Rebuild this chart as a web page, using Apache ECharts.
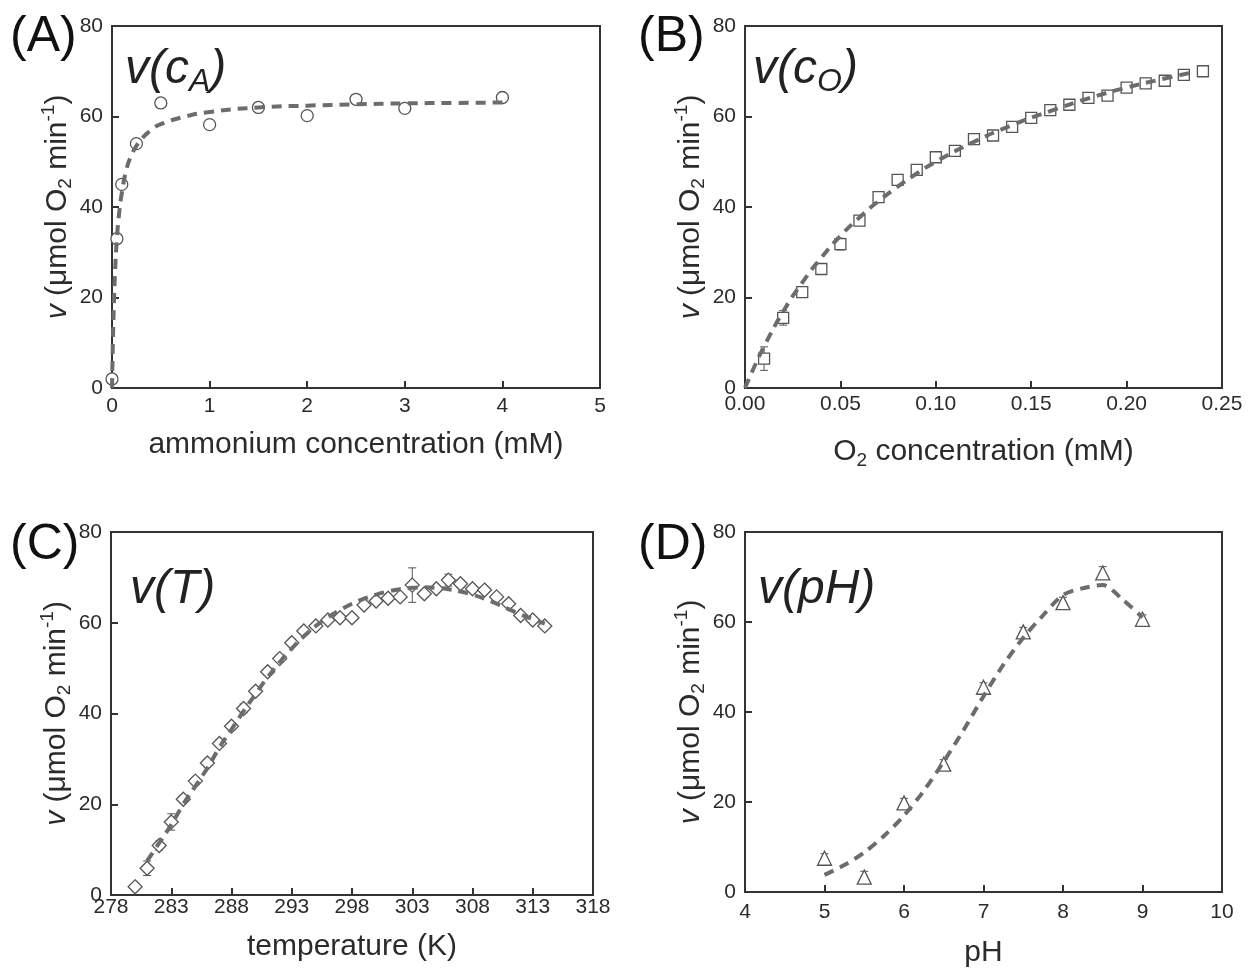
<!DOCTYPE html>
<html>
<head>
<meta charset="utf-8">
<script src="https://cdn.jsdelivr.net/npm/echarts@6/dist/echarts.min.js"></script>
<style>
  html, body { margin: 0; padding: 0; background: #fff; }
  #main { width: 1255px; height: 969px; }
</style>
</head>
<body>
<div id="main"></div>
<script>
// (A) rate vs ammonium concentration
var ammoniumX = [0, 0.05, 0.1, 0.25, 0.5, 1, 1.5, 2, 2.5, 3, 4];
var ammoniumV = [2, 33, 45, 54, 63, 58.2, 62, 60.2, 63.8, 61.8, 64.2];
var ammoniumFitX = [0, 0.005, 0.01, 0.02, 0.03, 0.05, 0.075, 0.1, 0.15, 0.2, 0.25, 0.3, 0.4, 0.5, 0.75, 1, 1.5, 2, 2.5, 3, 3.5, 4];
var ammoniumFitV = [0, 6, 11, 19, 25, 33, 39, 43, 48.5, 51.5, 53.5, 55, 57, 58.3, 60, 61, 62, 62.4, 62.7, 62.9, 63, 63.1];

// (B) rate vs O2 concentration
var oxygenX = [0.01, 0.02, 0.03, 0.04, 0.05, 0.06, 0.07, 0.08, 0.09, 0.10, 0.11, 0.12, 0.13, 0.14, 0.15, 0.16, 0.17, 0.18, 0.19, 0.20, 0.21, 0.22, 0.23, 0.24];
var oxygenV = [6.5, 15.5, 21.2, 26.3, 31.8, 37, 42.2, 46, 48.2, 51, 52.4, 55, 55.8, 57.7, 59.7, 61.4, 62.6, 64.1, 64.6, 66.4, 67.3, 67.9, 69.2, 70];
var oxygenErr = [2.6, 1.6, 1.2, 1.1, 1.3, 1, 1, 1, 0.8, 0.8, 0.7, 0.7, 0.7, 0.7, 0.7, 0.7, 0.7, 0.7, 0.7, 0.7, 0.7, 0.7, 0.7, 0.6];
var oxygenFitX = [0, 0.005, 0.01, 0.02, 0.03, 0.04, 0.05, 0.06, 0.07, 0.08, 0.09, 0.10, 0.12, 0.14, 0.16, 0.18, 0.20, 0.22, 0.235];
var oxygenFitV = [0, 4.8, 9.2, 16.9, 23.3, 28.8, 33.6, 37.7, 41.3, 44.5, 47.4, 50, 54.4, 58.1, 61.2, 64, 66.4, 68.4, 69.8];

// (C) rate vs temperature
var tempX = [280, 281, 282, 283, 284, 285, 286, 287, 288, 289, 290, 291, 292, 293, 294, 295, 296, 297, 298, 299, 300, 301, 302, 303, 304, 305, 306, 307, 308, 309, 310, 311, 312, 313, 314];
var tempV = [1.8, 5.9, 10.9, 16.1, 21.1, 25.1, 29.1, 33.4, 37.2, 41.1, 44.9, 49.2, 52.1, 55.6, 58.2, 59.3, 60.6, 61.1, 61.1, 63.9, 64.8, 65.4, 65.7, 68.3, 66.4, 67.5, 69.4, 68.6, 67.5, 67.2, 65.7, 64.2, 61.6, 60.6, 59.3];
var tempErr = [0.5, 1.6, 1, 1.8, 0.8, 0.8, 0.8, 0.8, 0.8, 1, 0.8, 0.8, 0.8, 0.8, 0.8, 0.6, 0.6, 0.6, 0.6, 0.6, 0.6, 0.6, 0.6, 3.8, 0.6, 0.6, 1.3, 0.8, 0.6, 0.6, 0.6, 0.6, 0.6, 0.6, 0.6];
var tempFitX = [281, 282, 283, 284, 285, 286, 287, 288, 289, 290, 291, 292, 293, 294, 295, 296, 297, 298, 299, 300, 301, 302, 303, 304, 305, 306, 307, 308, 309, 310, 311, 312, 313, 314];
var tempFitV = [7.5, 11.5, 15.5, 20, 24, 28, 32.5, 36.5, 40.5, 44.3, 48, 51.3, 54.3, 57, 59.3, 61.2, 62.8, 64.2, 65.3, 66.2, 66.9, 67.4, 67.7, 67.8, 67.7, 67.4, 66.9, 66.2, 65.3, 64.2, 63, 61.8, 60.8, 59.8];
var tempTicks = [278, 283, 288, 293, 298, 303, 308, 313, 318];

// (D) rate vs pH
var phX = [5, 5.5, 6, 6.5, 7, 7.5, 8, 8.5, 9];
var phV = [7.5, 3.3, 19.8, 28.4, 45.5, 57.8, 64.3, 70.9, 60.6];
var phErr = [1, 1.3, 1, 1, 1, 1, 1.2, 1.4, 1];
var phFitX = [5, 5.25, 5.5, 5.75, 6, 6.25, 6.5, 6.75, 7, 7.25, 7.5, 7.75, 8, 8.25, 8.5, 8.75, 9];
var phFitV = [3.8, 6, 8.8, 12.5, 17, 22.5, 29, 36, 43.5, 50.5, 56.5, 61.5, 66, 67.5, 68.2, 65, 61];

var FONT = '"Liberation Sans", Arial, sans-serif';
var TEXT = '#2b2b2b';
var MARK = '#555';
var FIT = '#6c6c6c';

function pairs(xs, ys) {
  return xs.map(function (x, i) { return [x, ys[i]]; });
}

var yName = '{i|v}{n| (μmol O}{s|2}{n| min}{p|-1}{n|)}';
var nameRich = {
  i: { fontSize: 30, fontStyle: 'italic', fontFamily: FONT, color: TEXT, lineHeight: 36 },
  n: { fontSize: 30, fontFamily: FONT, color: TEXT, lineHeight: 36 },
  s: { fontSize: 19, fontFamily: FONT, color: TEXT, lineHeight: 19, verticalAlign: 'bottom' },
  p: { fontSize: 19, fontFamily: FONT, color: TEXT, lineHeight: 19, verticalAlign: 'top' }
};

function xAxis(i, opt) {
  var ax = {
    type: 'value', gridIndex: i, min: opt.min, max: opt.max, interval: opt.interval,
    name: opt.name, nameLocation: 'middle', nameGap: opt.nameGap,
    nameTextStyle: { fontSize: 30, fontFamily: FONT, color: TEXT, rich: nameRich },
    axisLine: { lineStyle: { color: '#333', width: 2 } },
    axisTick: { inside: true, length: 7, lineStyle: { color: '#333', width: 2 } },
    axisLabel: { fontSize: 21, fontFamily: FONT, color: TEXT, margin: opt.margin, formatter: opt.formatter },
    splitLine: { show: false }
  };
  if (opt.custom) {
    ax.axisTick.customValues = opt.custom;
    ax.axisLabel.customValues = opt.custom;
  }
  return ax;
}

function yAxis(i) {
  return {
    type: 'value', gridIndex: i, min: 0, max: 80, interval: 20,
    name: yName, nameLocation: 'middle', nameGap: 32, nameRotate: 90,
    nameTextStyle: { rich: nameRich },
    axisLine: { lineStyle: { color: '#333', width: 2 } },
    axisTick: { inside: true, length: 7, lineStyle: { color: '#333', width: 2 } },
    axisLabel: { fontSize: 21, fontFamily: FONT, color: TEXT, margin: 9 },
    splitLine: { show: false }
  };
}

function scatter(i, xs, ys, symbol, size) {
  return {
    type: 'scatter', xAxisIndex: i, yAxisIndex: i, z: 3,
    symbol: symbol, symbolSize: size,
    itemStyle: { color: '#fff', borderColor: MARK, borderWidth: 1.3, opacity: 1 },
    data: pairs(xs, ys)
  };
}

function fit(i, xs, ys, smooth) {
  return {
    type: 'line', xAxisIndex: i, yAxisIndex: i, z: 4,
    showSymbol: false, smooth: smooth,
    lineStyle: { color: FIT, width: 4, type: [10, 7] },
    data: pairs(xs, ys)
  };
}

function errorBars(i, xs, ys, errs) {
  return {
    type: 'custom', xAxisIndex: i, yAxisIndex: i, z: 2,
    encode: { x: 0, y: 1 },
    data: xs.map(function (x, k) { return [x, ys[k], errs[k]]; }),
    renderItem: function (params, api) {
      var x = api.value(0), y = api.value(1), e = api.value(2);
      var hi = api.coord([x, y + e]);
      var lo = api.coord([x, y - e]);
      var w = 4;
      var st = { stroke: MARK, lineWidth: 1 };
      return {
        type: 'group',
        children: [
          { type: 'line', shape: { x1: hi[0], y1: hi[1], x2: lo[0], y2: lo[1] }, style: st },
          { type: 'line', shape: { x1: hi[0] - w, y1: hi[1], x2: hi[0] + w, y2: hi[1] }, style: st },
          { type: 'line', shape: { x1: lo[0] - w, y1: lo[1], x2: lo[0] + w, y2: lo[1] }, style: st }
        ]
      };
    }
  };
}

function panelLabel(txt, x, y) {
  return { type: 'text', x: x, y: y, style: { text: txt, fontSize: 50, fontFamily: FONT, fill: '#111' } };
}

var titleRich = {
  v: { fontSize: 48, fontStyle: 'italic', fontFamily: FONT, fill: '#222', lineHeight: 56 },
  s: { fontSize: 32, fontStyle: 'italic', fontFamily: FONT, fill: '#222', lineHeight: 40, verticalAlign: 'bottom' }
};
function panelTitle(txt, x, y) {
  return { type: 'text', x: x, y: y, style: { text: txt, rich: titleRich } };
}

var chart = echarts.init(document.getElementById('main'));
chart.setOption({
  animation: false,
  backgroundColor: '#fff',
  grid: [
    { left: 112, top: 26, width: 488, height: 362, show: true, borderColor: '#333', borderWidth: 2 },
    { left: 745, top: 26, width: 477, height: 362, show: true, borderColor: '#333', borderWidth: 2 },
    { left: 111, top: 532, width: 482, height: 363, show: true, borderColor: '#333', borderWidth: 2 },
    { left: 745, top: 532, width: 477, height: 363, show: true, borderColor: '#333', borderWidth: 2 }
  ],
  xAxis: [
    xAxis(0, { min: 0, max: 5, interval: 1, name: 'ammonium concentration (mM)', nameGap: 42, margin: 8 }),
    xAxis(1, { min: 0, max: 0.25, interval: 0.05, name: '{n|O}{s|2}{n| concentration (mM)}', nameGap: 46, margin: 6,
      formatter: function (v) { return v.toFixed(2); } }),
    xAxis(2, { min: 278, max: 318, name: 'temperature (K)', nameGap: 37, margin: 2, custom: tempTicks }),
    xAxis(3, { min: 4, max: 10, interval: 1, name: 'pH', nameGap: 46, margin: 10 })
  ],
  yAxis: [yAxis(0), yAxis(1), yAxis(2), yAxis(3)],
  graphic: [
    panelLabel('(A)', 10, 12),
    panelLabel('(B)', 638, 12),
    panelLabel('(C)', 10, 520),
    panelLabel('(D)', 638, 520),
    panelTitle('{v|v(c}{s|A}{v|)}', 125, 42),
    panelTitle('{v|v(c}{s|O}{v|)}', 753, 42),
    panelTitle('{v|v(T)}', 130, 562),
    panelTitle('{v|v(pH)}', 758, 562)
  ],
  series: [
    scatter(0, ammoniumX, ammoniumV, 'circle', 12),
    fit(0, ammoniumFitX, ammoniumFitV, true),
    errorBars(1, oxygenX, oxygenV, oxygenErr),
    scatter(1, oxygenX, oxygenV, 'rect', 11),
    fit(1, oxygenFitX, oxygenFitV, true),
    errorBars(2, tempX, tempV, tempErr),
    scatter(2, tempX, tempV, 'diamond', 14),
    fit(2, tempFitX, tempFitV, true),
    errorBars(3, phX, phV, phErr),
    scatter(3, phX, phV, 'triangle', 14),
    fit(3, phFitX, phFitV, 0.3)
  ]
});
</script>
</body>
</html>
